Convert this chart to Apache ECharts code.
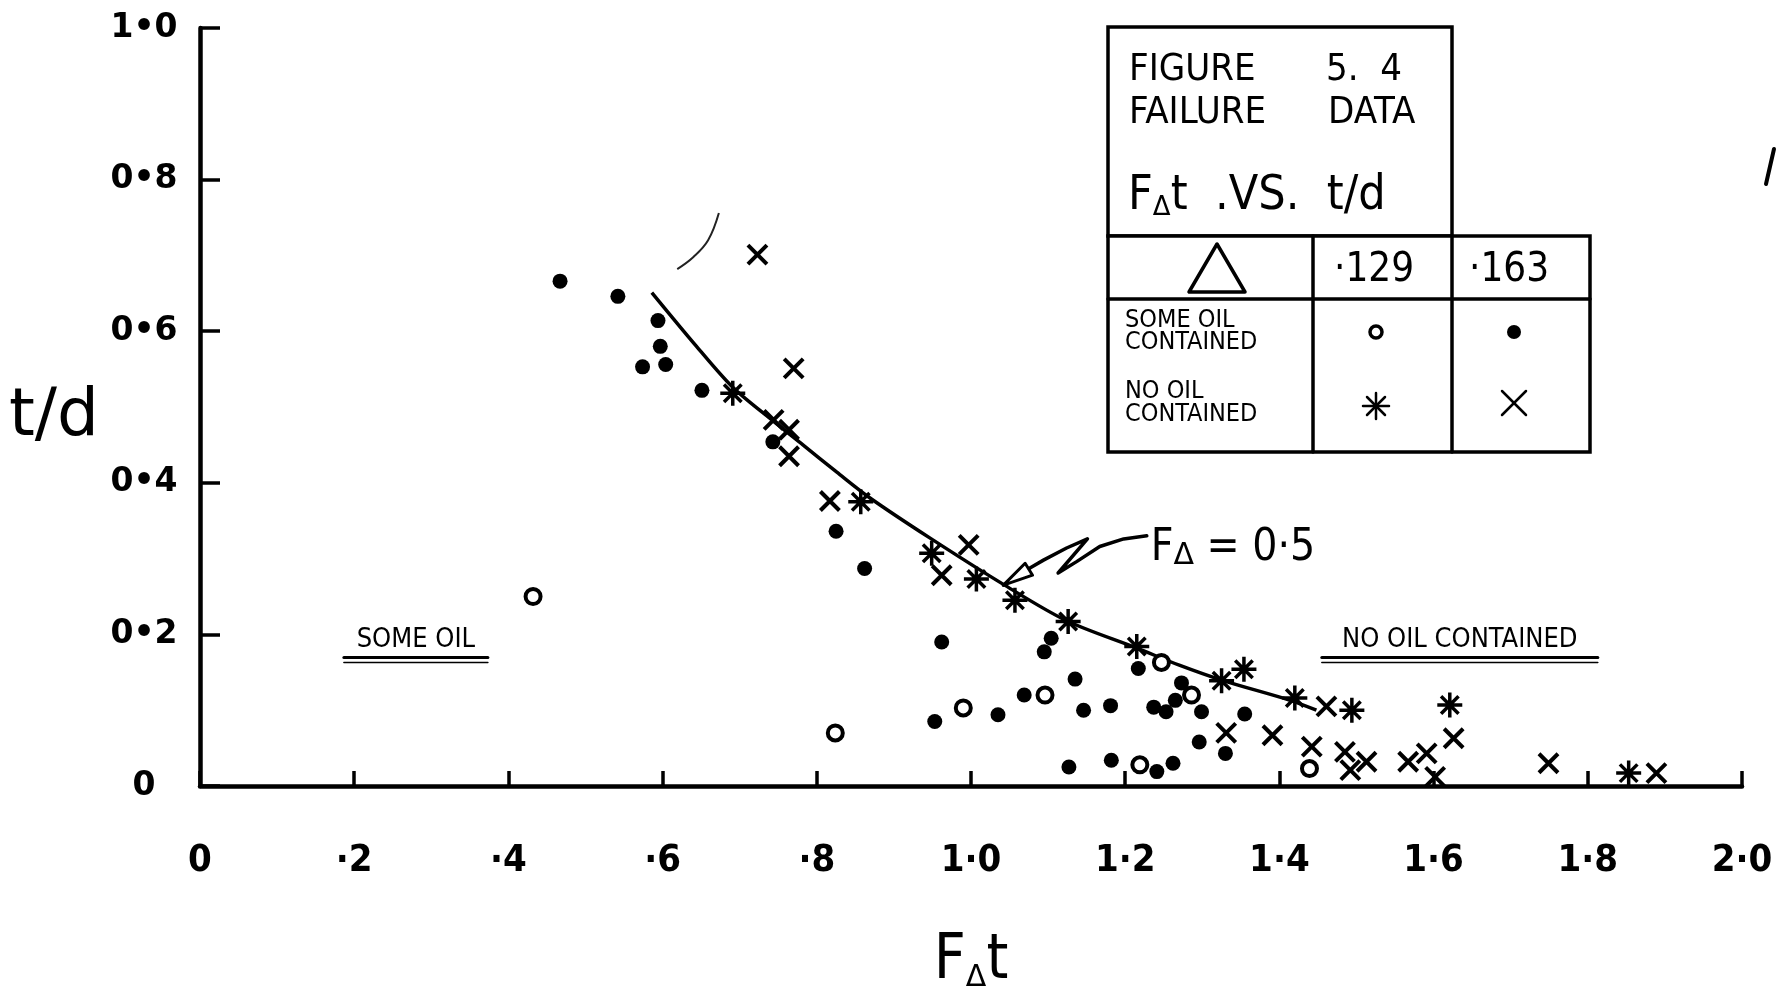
<!DOCTYPE html>
<html>
<head>
<meta charset="utf-8">
<title>Figure 5.4 Failure data</title>
<script src="https://cdn.jsdelivr.net/npm/echarts@6/dist/echarts.min.js"></script>
<style>
  html, body { margin: 0; padding: 0; background: #fff; }
  #chart { width: 1781px; height: 990px; }
</style>
</head>
<body>
<div id="chart"></div>
<script>
// tick labels as lettered on the sheet
const xTickLabels = ['0', '·2', '·4', '·6', '·8', '1·0', '1·2', '1·4', '1·6', '1·8', '2·0']
const yTickLabels = ['0', '0•2', '0•4', '0•6', '0•8', '1•0']

// [F∆t, t/d]
// Δ = .129, some oil contained (open circle)
const someOil129 = [
  [0.432, 0.250], [0.824, 0.070], [0.990, 0.103], [1.096, 0.120], [1.247, 0.163],
  [1.286, 0.120], [1.219, 0.028], [1.439, 0.023]
]
// Δ = .163, some oil contained (filled dot)
const someOil163 = [
  [0.467, 0.666], [0.542, 0.646], [0.594, 0.614], [0.597, 0.580], [0.574, 0.553],
  [0.604, 0.556], [0.651, 0.522], [0.743, 0.454], [0.825, 0.336], [0.862, 0.287],
  [0.962, 0.190], [1.104, 0.195], [1.095, 0.177], [0.953, 0.085], [1.035, 0.094],
  [1.069, 0.120], [1.135, 0.141], [1.146, 0.100], [1.181, 0.106], [1.217, 0.155],
  [1.237, 0.104], [1.253, 0.098], [1.265, 0.113], [1.273, 0.136], [1.299, 0.098],
  [1.296, 0.058], [1.330, 0.043], [1.355, 0.095], [1.127, 0.025], [1.182, 0.034],
  [1.241, 0.019], [1.262, 0.030]
]
// Δ = .129, no oil contained (asterisk)
const noOil129 = [
  [0.691, 0.518], [0.857, 0.375], [0.949, 0.307], [1.007, 0.273], [1.057, 0.245],
  [1.126, 0.217], [1.215, 0.184], [1.325, 0.139], [1.354, 0.154], [1.420, 0.116],
  [1.494, 0.100], [1.621, 0.107], [1.853, 0.017]
]
// Δ = .163, no oil contained (cross)
const noOil163 = [
  [0.723, 0.701], [0.770, 0.551], [0.744, 0.483], [0.764, 0.470], [0.764, 0.435],
  [0.817, 0.376], [0.997, 0.318], [0.962, 0.278], [1.331, 0.070], [1.391, 0.067],
  [1.461, 0.105], [1.442, 0.052], [1.485, 0.045], [1.492, 0.021], [1.513, 0.032],
  [1.567, 0.032], [1.591, 0.043], [1.602, 0.012], [1.626, 0.063], [1.749, 0.030],
  [1.889, 0.017]
]
// hand drawn curve F∆ = 0.5
const curveF05 = [
  [0.586, 0.651], [0.644, 0.580], [0.692, 0.525], [0.744, 0.481], [0.782, 0.450],
  [0.826, 0.414], [0.869, 0.380], [0.947, 0.327], [1.042, 0.266], [1.124, 0.218],
  [1.215, 0.182], [1.271, 0.159], [1.327, 0.139], [1.414, 0.113], [1.448, 0.100]
]
// pencil stroke above the curve
const strayArc = [[0.619, 0.682], [0.640, 0.698], [0.659, 0.720], [0.673, 0.756]]
// zig-zag pointer from the label to the curve
const pointerF05 = [
  [1.228, 0.330], [1.198, 0.326], [1.167, 0.316], [1.137, 0.296], [1.113, 0.281],
  [1.151, 0.326], [1.124, 0.314], [1.094, 0.298], [1.077, 0.288], [1.042, 0.265]
]

const INK = '#000'
const SANS = '"DejaVu Sans", sans-serif'
const COND = '"DejaVu Sans Condensed", "Liberation Sans Narrow", "DejaVu Sans", sans-serif'

const starPath = 'path://M50,0L50,100M0,50L100,50M15,15L85,85M85,15L15,85'
const crossPath = 'path://M0,0L100,100M100,0L0,100'

const chart = echarts.init(document.getElementById('chart'))

const option = {
  backgroundColor: '#fff',
  animation: false,
  grid: { left: 200, right: 39, top: 28, bottom: 204, containLabel: false, outerBoundsMode: 'none' },
  xAxis: {
    type: 'value',
    min: 0,
    max: 2,
    interval: 0.2,
    axisLine: { show: true, onZero: false, lineStyle: { color: INK, width: 4.5 } },
    axisTick: { show: true, inside: true, length: 15, lineStyle: { color: INK, width: 3.5 } },
    axisLabel: {
      margin: 75,
      color: INK,
      fontSize: 38,
      fontWeight: 'bold',
      fontFamily: COND,
      verticalAlign: 'middle',
      formatter: v => xTickLabels[Math.round(v / 0.2)]
    },
    splitLine: { show: false },
    name: '{f|F}{d|Δ}{f|t}',
    nameLocation: 'middle',
    nameGap: 176,
    nameTextStyle: {
      verticalAlign: 'middle',
      rich: {
        f: { fontSize: 62, fontFamily: COND, color: INK },
        d: { fontSize: 30, fontFamily: SANS, color: INK, verticalAlign: 'bottom' }
      }
    }
  },
  yAxis: {
    type: 'value',
    min: 0,
    max: 1,
    interval: 0.2,
    axisLine: { show: true, onZero: false, lineStyle: { color: INK, width: 4.5 } },
    axisTick: { show: true, inside: true, length: 20, lineStyle: { color: INK, width: 3.5 } },
    axisLabel: {
      margin: 56,
      align: 'center',
      color: INK,
      fontSize: 33,
      fontWeight: 'bold',
      fontFamily: SANS,
      formatter: v => yTickLabels[Math.round(v / 0.2)]
    },
    splitLine: { show: false }
  },
  series: [
    {
      name: 'F∆ = 0.5',
      type: 'line',
      data: curveF05,
      smooth: 0.3,
      showSymbol: false,
      z: 1,
      lineStyle: { color: INK, width: 3.5 }
    },
    {
      name: 'stroke',
      type: 'line',
      data: strayArc,
      smooth: 0.4,
      showSymbol: false,
      z: 1,
      lineStyle: { color: '#222', width: 2 }
    },
    {
      name: '·129 some oil',
      type: 'scatter',
      data: someOil129,
      symbol: 'circle',
      symbolSize: 15,
      z: 3,
      itemStyle: { color: '#fff', borderColor: INK, borderWidth: 4, opacity: 1 }
    },
    {
      name: '·163 some oil',
      type: 'scatter',
      data: someOil163,
      symbol: 'circle',
      symbolSize: 15,
      z: 3,
      itemStyle: { color: INK, opacity: 1 }
    },
    {
      name: '·129 no oil',
      type: 'scatter',
      data: noOil129,
      symbol: starPath,
      symbolSize: 25,
      z: 3,
      itemStyle: { color: INK, borderColor: INK, borderWidth: 3.5, opacity: 1 }
    },
    {
      name: '·163 no oil',
      type: 'scatter',
      data: noOil163,
      symbol: crossPath,
      symbolSize: 19,
      z: 3,
      itemStyle: { color: INK, borderColor: INK, borderWidth: 4, opacity: 1 }
    }
  ]
}

chart.setOption(option)

const px = p => chart.convertToPixel({ gridIndex: 0 }, p)

function txt(text, x, y, font, align) {
  return {
    type: 'text',
    z: 10,
    style: {
      text: text, x: x, y: y, font: font, fill: INK,
      align: align || 'left', textAlign: align || 'left',
      verticalAlign: 'middle', textVerticalAlign: 'middle'
    }
  }
}
function seg(x1, y1, x2, y2, w) {
  return {
    type: 'line',
    z: 10,
    shape: { x1: x1, y1: y1, x2: x2, y2: y2 },
    style: { stroke: INK, lineWidth: w || 3, lineCap: 'round' }
  }
}

function buildGraphics() {
  const g = []

  // title box and symbol table
  g.push({ type: 'rect', z: 9, shape: { x: 1108, y: 27, width: 344, height: 209 },
    style: { fill: '#fff', stroke: INK, lineWidth: 3.5 } })
  g.push({ type: 'rect', z: 9, shape: { x: 1108, y: 236, width: 482, height: 216 },
    style: { fill: '#fff', stroke: INK, lineWidth: 3.5 } })
  g.push(seg(1313, 236, 1313, 452, 3.5))
  g.push(seg(1452, 236, 1452, 452, 3.5))
  g.push(seg(1108, 299, 1590, 299, 3.5))

  const head = '500 38px ' + COND
  g.push(txt('FIGURE', 1129, 70, head))
  g.push(txt('5.  4', 1326, 70, head))
  g.push(txt('FAILURE', 1129, 113, head))
  g.push(txt('DATA', 1328, 113, head))
  g.push({
    type: 'text', z: 10,
    style: {
      text: '{a|F}{b|Δ}{a|t  .VS.  t/d}', x: 1128, y: 197,
      align: 'left', textAlign: 'left', verticalAlign: 'middle', textVerticalAlign: 'middle',
      rich: {
        a: { fontSize: 48, fontFamily: 'DejaVu Sans Condensed, DejaVu Sans', fill: INK },
        b: { fontSize: 26, fontFamily: 'DejaVu Sans', fill: INK, verticalAlign: 'bottom' }
      }
    }
  })
  g.push({ type: 'polygon', z: 10, shape: { points: [[1217, 244], [1189, 292], [1245, 292]] },
    style: { fill: 'none', stroke: INK, lineWidth: 3.5, lineJoin: 'round' } })
  g.push(txt('·129', 1374, 271, '40px ' + COND, 'center'))
  g.push(txt('·163', 1509, 271, '40px ' + COND, 'center'))
  const small = '25px ' + COND
  g.push(txt('SOME OIL', 1125, 320, small))
  g.push(txt('CONTAINED', 1125, 342, small))
  g.push(txt('NO OIL', 1125, 391, small))
  g.push(txt('CONTAINED', 1125, 414, small))
  g.push({ type: 'circle', z: 10, shape: { cx: 1376, cy: 332, r: 6 },
    style: { fill: '#fff', stroke: INK, lineWidth: 3.5 } })
  g.push({ type: 'circle', z: 10, shape: { cx: 1514, cy: 332, r: 7 },
    style: { fill: INK } })
  // asterisk and cross keys
  const sc = 1376, sy = 406, sr = 13
  g.push(seg(sc, sy - sr, sc, sy + sr, 2.5))
  g.push(seg(sc - sr, sy, sc + sr, sy, 2.5))
  g.push(seg(sc - 9, sy - 9, sc + 9, sy + 9, 2.5))
  g.push(seg(sc + 9, sy - 9, sc - 9, sy + 9, 2.5))
  g.push(seg(1502, 391, 1526, 415, 2.5))
  g.push(seg(1526, 391, 1502, 415, 2.5))

  // y axis name
  g.push(txt('t/d', 54, 418, '66px ' + SANS, 'center'))

  // curve label with zig-zag pointer
  const lab = px([1.233, 0.313])
  g.push({
    type: 'text', z: 10,
    style: {
      text: '{a|F}{b|Δ}{a| = 0·5}', x: lab[0], y: lab[1],
      align: 'left', textAlign: 'left', verticalAlign: 'middle', textVerticalAlign: 'middle',
      rich: {
        a: { fontSize: 44, fontFamily: 'DejaVu Sans Condensed, DejaVu Sans', fill: INK },
        b: { fontSize: 30, fontFamily: 'DejaVu Sans', fill: INK, verticalAlign: 'bottom' }
      }
    }
  })
  const pts = pointerF05.map(px)
  g.push({ type: 'polyline', z: 10, shape: { points: pts },
    style: { fill: 'none', stroke: INK, lineWidth: 3.5, lineJoin: 'round', lineCap: 'round' } })
  const tip = pts[pts.length - 1], prev = pts[pts.length - 3]
  let dx = tip[0] - prev[0], dy = tip[1] - prev[1]
  const len = Math.hypot(dx, dy); dx /= len; dy /= len
  const bx = tip[0] - dx * 30, by = tip[1] - dy * 30
  g.push({ type: 'polygon', z: 10,
    shape: { points: [tip, [bx - dy * 7, by + dx * 7], [bx + dy * 7, by - dx * 7]] },
    style: { fill: '#fff', stroke: INK, lineWidth: 3, lineJoin: 'round' } })

  // region labels, double underlined
  const region = (text, cx, halfW) => {
    const p = px([cx, 0.192])
    g.push(txt(text, p[0], p[1], '27px ' + COND, 'center'))
    g.push(seg(p[0] - halfW, p[1] + 17, p[0] + halfW, p[1] + 17, 3))
    g.push(seg(p[0] - halfW, p[1] + 22, p[0] + halfW, p[1] + 22, 1.5))
  }
  region('SOME OIL', 0.280, 72)
  region('NO OIL CONTAINED', 1.634, 138)

  // stray pen mark in the right margin
  g.push(seg(1774, 149, 1766, 184, 4))
  return g
}

chart.setOption({ graphic: buildGraphics() })
window.addEventListener('resize', () => chart.resize())
</script>
</body>
</html>
